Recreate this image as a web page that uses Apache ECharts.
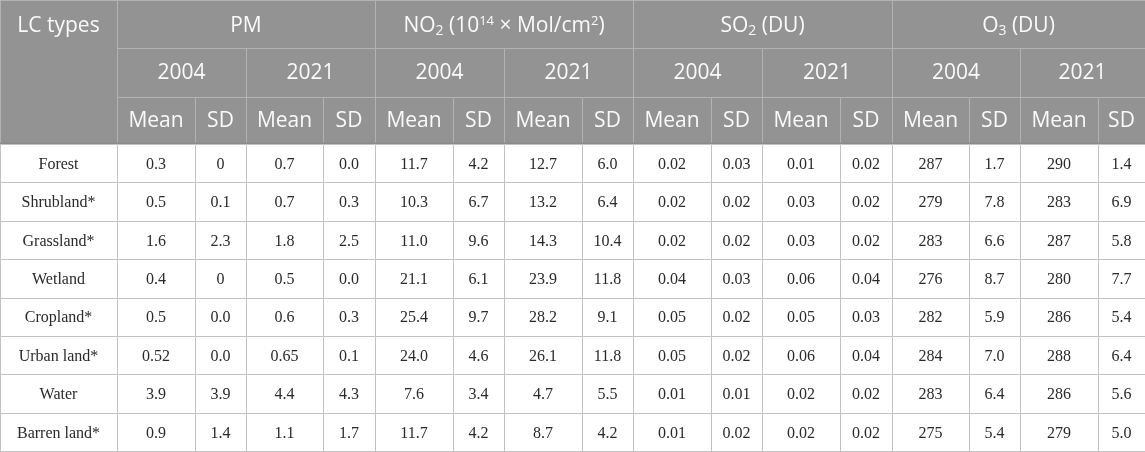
<!DOCTYPE html>
<html>
<head>
    <meta charset="UTF-8">
    <title>LC types pollutant table</title>
    <script src="https://cdn.jsdelivr.net/npm/echarts@6/dist/echarts.min.js"></script>
    <style>
        html, body { margin: 0; padding: 0; background: #fff; }
    </style>
</head>
<body>
    <div id="chart" style="width:1145px; height:452px;"></div>
    <script>
        // table data, one array per column
        var lcTypes = ['Forest', 'Shrubland*', 'Grassland*', 'Wetland', 'Cropland*', 'Urban land*', 'Water', 'Barren land*'];
        var pm2004Mean = ['0.3', '0.5', '1.6', '0.4', '0.5', '0.52', '3.9', '0.9'];
        var pm2004SD = ['0', '0.1', '2.3', '0', '0.0', '0.0', '3.9', '1.4'];
        var pm2021Mean = ['0.7', '0.7', '1.8', '0.5', '0.6', '0.65', '4.4', '1.1'];
        var pm2021SD = ['0.0', '0.3', '2.5', '0.0', '0.3', '0.1', '4.3', '1.7'];
        var no2_2004Mean = ['11.7', '10.3', '11.0', '21.1', '25.4', '24.0', '7.6', '11.7'];
        var no2_2004SD = ['4.2', '6.7', '9.6', '6.1', '9.7', '4.6', '3.4', '4.2'];
        var no2_2021Mean = ['12.7', '13.2', '14.3', '23.9', '28.2', '26.1', '4.7', '8.7'];
        var no2_2021SD = ['6.0', '6.4', '10.4', '11.8', '9.1', '11.8', '5.5', '4.2'];
        var so2_2004Mean = ['0.02', '0.02', '0.02', '0.04', '0.05', '0.05', '0.01', '0.01'];
        var so2_2004SD = ['0.03', '0.02', '0.02', '0.03', '0.02', '0.02', '0.01', '0.02'];
        var so2_2021Mean = ['0.01', '0.03', '0.03', '0.06', '0.05', '0.06', '0.02', '0.02'];
        var so2_2021SD = ['0.02', '0.02', '0.02', '0.04', '0.03', '0.04', '0.02', '0.02'];
        var o3_2004Mean = ['287', '279', '283', '276', '282', '284', '283', '275'];
        var o3_2004SD = ['1.7', '7.8', '6.6', '8.7', '5.9', '7.0', '6.4', '5.4'];
        var o3_2021Mean = ['290', '283', '287', '280', '286', '288', '286', '279'];
        var o3_2021SD = ['1.4', '6.9', '5.8', '7.7', '5.4', '6.4', '5.6', '5.0'];

        var pollutants = ['PM', '{n|NO}{s|2}{n| (10}{p|14}{n| × Mol/cm}{p|2}{n|)}', '{n|SO}{s|2}{n| (DU)}', '{n|O}{s|3}{n| (DU)}'];
        var years = ['2004', '2021'];
        var stats = ['Mean', 'SD'];

        var columns = [lcTypes,
            pm2004Mean, pm2004SD, pm2021Mean, pm2021SD,
            no2_2004Mean, no2_2004SD, no2_2021Mean, no2_2021SD,
            so2_2004Mean, so2_2004SD, so2_2021Mean, so2_2021SD,
            o3_2004Mean, o3_2004SD, o3_2021Mean, o3_2021SD];

        // layout (px of the table)
        var W = 1145;
        var colEdges = [0, 117, 195, 246, 323, 375, 453, 504, 582, 633, 711, 762, 840, 892, 969, 1020, 1098, 1145];
        var headRows = [0, 48, 97, 144];
        var headBg = '#939393';
        var headLine = '#b3b3b3';
        var bodyLine = '#c2c2c2';
        var headFont = '"Open Sans", "Noto Sans", sans-serif';
        var bodyFont = '"Liberation Serif", "DejaVu Serif", serif';
        var headSize = 21;

        var cellText = [];
        var cellData = [];
        for (var r = 0; r < lcTypes.length; r++) {
            for (var c = 0; c < columns.length; c++) {
                cellData.push([c, r]);
                cellText.push(columns[c][r]);
            }
        }

        var chart = echarts.init(document.getElementById('chart'), null, {renderer: 'canvas'});

        function renderCell(params, api) {
            var c = api.value(0);
            var r = api.value(1);
            var x0 = Math.round(api.coord([colEdges[c], r])[0]);
            var x1 = Math.round(api.coord([colEdges[c + 1], r])[0]);
            var cy = api.coord([0, r])[1];
            var h = api.size([0, 1])[1];
            var y0 = Math.round(cy - h / 2);
            var y1 = Math.round(cy + h / 2);
            return {
                type: 'group',
                children: [{
                    type: 'rect',
                    shape: {x: x0 + 0.5, y: y0 + 0.5, width: x1 - x0, height: y1 - y0},
                    style: {fill: '#fff', stroke: bodyLine, lineWidth: 1}
                }, {
                    type: 'text',
                    style: {
                        text: cellText[params.dataIndex],
                        x: (x0 + x1) / 2, y: cy + 1.5,
                        align: 'center', verticalAlign: 'middle',
                        fontFamily: bodyFont, fontSize: 16, fill: '#2a2a2a'
                    }
                }]
            };
        }

        // header cells
        var graphics = [];
        function headCell(x0, x1, y0, y1, text, ty) {
            graphics.push({
                type: 'rect',
                shape: {x: x0 + 0.5, y: y0 + 0.5, width: x1 - x0, height: y1 - y0},
                style: {fill: headBg, stroke: headLine, lineWidth: 1},
                silent: true
            });
            graphics.push({
                type: 'text',
                style: {
                    text: text,
                    x: (x0 + x1) / 2, y: ty,
                    align: 'center', verticalAlign: 'middle',
                    fontFamily: headFont, fontSize: headSize, fill: '#fafafa',
                    rich: {
                        n: {fontFamily: headFont, fontSize: headSize, fill: '#fafafa'},
                        s: {fontFamily: headFont, fontSize: 14, fill: '#fafafa', padding: [10, 0, 0, 0]},
                        p: {fontFamily: headFont, fontSize: 13, fill: '#fafafa', padding: [0, 0, 9, 0]}
                    }
                },
                silent: true
            });
        }

        headCell(colEdges[0], colEdges[1], headRows[0], headRows[3], 'LC types', 26);
        for (var p = 0; p < pollutants.length; p++) {
            var pc = 1 + p * 4;
            headCell(colEdges[pc], colEdges[pc + 4], headRows[0], headRows[1], pollutants[p], 26);
            for (var y = 0; y < years.length; y++) {
                var yc = pc + y * 2;
                headCell(colEdges[yc], colEdges[yc + 2], headRows[1], headRows[2], years[y], 73);
                for (var s = 0; s < stats.length; s++) {
                    var sc = yc + s;
                    headCell(colEdges[sc], colEdges[sc + 1], headRows[2], headRows[3], stats[s], 121);
                }
            }
        }
        graphics.push({
            type: 'line',
            shape: {x1: 0, y1: headRows[3] - 0.5, x2: W, y2: headRows[3] - 0.5},
            style: {stroke: '#8a8a8a', lineWidth: 2},
            silent: true
        });

        chart.setOption({
            animation: false,
            grid: {left: 0, right: 0, top: headRows[3], bottom: 1},
            xAxis: {
                type: 'value', min: 0, max: W,
                show: false
            },
            yAxis: {
                type: 'category', data: lcTypes, inverse: true,
                show: false
            },
            series: [{
                type: 'custom',
                renderItem: renderCell,
                data: cellData,
                clip: false
            }],
            graphic: graphics
        });
    </script>
</body>
</html>
